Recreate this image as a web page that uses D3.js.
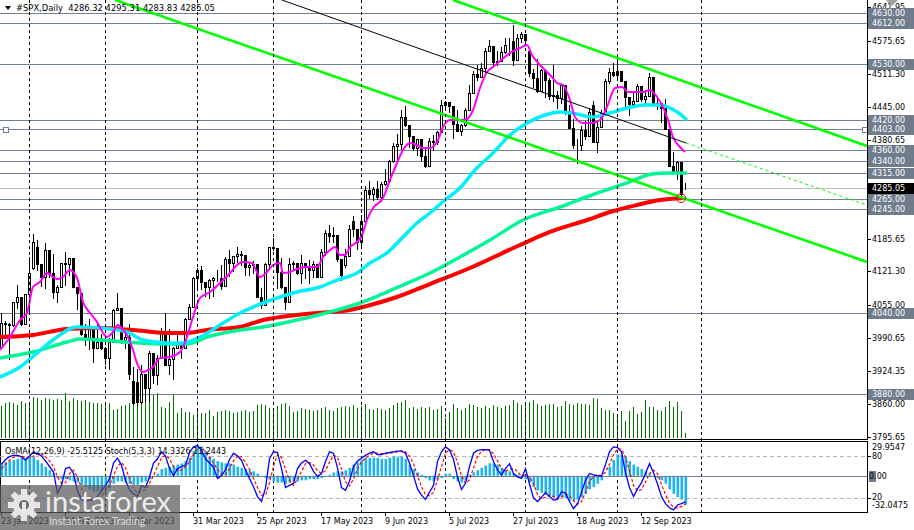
<!DOCTYPE html>
<html><head><meta charset="utf-8">
<script src="https://cdn.jsdelivr.net/npm/d3@7"></script>
<style>body{margin:0;background:#fff;overflow:hidden}svg{display:block;font-family:"DejaVu Sans",sans-serif}</style>
</head><body><svg id="c" width="914" height="530"></svg>
<script>
const dates=["2023-01-23","2023-01-24","2023-01-25","2023-01-26","2023-01-27","2023-01-30","2023-01-31",
"2023-02-01","2023-02-02","2023-02-03","2023-02-06","2023-02-07","2023-02-08","2023-02-09","2023-02-10","2023-02-13","2023-02-14","2023-02-15","2023-02-16","2023-02-17","2023-02-21","2023-02-22","2023-02-23","2023-02-24","2023-02-27","2023-02-28",
"2023-03-01","2023-03-02","2023-03-03","2023-03-06","2023-03-07","2023-03-08","2023-03-09","2023-03-10","2023-03-13","2023-03-14","2023-03-15","2023-03-16","2023-03-17","2023-03-20","2023-03-21","2023-03-22","2023-03-23","2023-03-24","2023-03-27","2023-03-28","2023-03-29","2023-03-30","2023-03-31",
"2023-04-03","2023-04-04","2023-04-05","2023-04-06","2023-04-10","2023-04-11","2023-04-12","2023-04-13","2023-04-14","2023-04-17","2023-04-18","2023-04-19","2023-04-20","2023-04-21","2023-04-24","2023-04-25","2023-04-26","2023-04-27","2023-04-28",
"2023-05-01","2023-05-02","2023-05-03","2023-05-04","2023-05-05","2023-05-08","2023-05-09","2023-05-10","2023-05-11","2023-05-12","2023-05-15","2023-05-16","2023-05-17","2023-05-18","2023-05-19","2023-05-22","2023-05-23","2023-05-24","2023-05-25","2023-05-26","2023-05-30","2023-05-31",
"2023-06-01","2023-06-02","2023-06-05","2023-06-06","2023-06-07","2023-06-08","2023-06-09","2023-06-12","2023-06-13","2023-06-14","2023-06-15","2023-06-16","2023-06-20","2023-06-21","2023-06-22","2023-06-23","2023-06-26","2023-06-27","2023-06-28","2023-06-29","2023-06-30",
"2023-07-03","2023-07-05","2023-07-06","2023-07-07","2023-07-10","2023-07-11","2023-07-12","2023-07-13","2023-07-14","2023-07-17","2023-07-18","2023-07-19","2023-07-20","2023-07-21","2023-07-24","2023-07-25","2023-07-26","2023-07-27","2023-07-28","2023-07-31",
"2023-08-01","2023-08-02","2023-08-03","2023-08-04","2023-08-07","2023-08-08","2023-08-09","2023-08-10","2023-08-11","2023-08-14","2023-08-15","2023-08-16","2023-08-17","2023-08-18","2023-08-21","2023-08-22","2023-08-23","2023-08-24","2023-08-25","2023-08-28","2023-08-29","2023-08-30","2023-08-31",
"2023-09-01","2023-09-05","2023-09-06","2023-09-07","2023-09-08","2023-09-11","2023-09-12","2023-09-13","2023-09-14","2023-09-15","2023-09-18","2023-09-19","2023-09-20","2023-09-21","2023-09-22","2023-09-25","2023-09-26","2023-09-27"];

const open=[3972.6,4019.8,4017.0,4016.2,4060.4,4070.6,4017.8,
4076.6,4128.0,4170.0,4136.5,4111.1,4164.0,4117.9,4081.5,4090.5,4137.3,4136.1,4147.6,4090.4,4079.1,3997.3,3991.1,4012.3,3970.0,3982.2,
3970.2,3951.4,3981.4,4045.6,4048.4,3986.4,3992.0,3905.0,3903.0,3864.0,3919.3,3891.9,3960.3,3916.6,3951.6,4002.9,3937.0,3948.7,3971.0,3977.5,3971.3,4027.8,4050.8,
4109.3,4124.5,4100.6,4090.4,4105.0,4109.1,4108.9,4092.0,4146.2,4137.6,4151.3,4154.9,4154.5,4129.8,4133.5,4137.0,4071.6,4056.0,4135.4,
4169.5,4167.9,4119.6,4090.8,4061.2,4136.3,4138.1,4119.2,4137.6,4130.6,4124.1,4136.3,4109.9,4158.8,4198.1,4192.0,4192.6,4145.6,4135.0,4151.3,4220.0,4205.5,
4179.8,4221.0,4282.4,4273.8,4283.9,4267.5,4293.9,4298.9,4338.9,4369.0,4372.6,4425.8,4409.6,4388.7,4365.7,4381.9,4348.3,4328.8,4378.4,4376.9,4396.4,
4450.4,4455.6,4446.8,4411.6,4399.0,4409.5,4439.3,4472.2,4510.0,4505.4,4522.8,4555.0,4565.7,4534.9,4536.3,4554.6,4567.5,4575.0,4537.4,4582.2,
4589.0,4555.0,4513.4,4501.9,4478.0,4518.4,4499.4,4467.7,4468.8,4464.1,4489.7,4437.9,4404.3,4370.4,4369.7,4399.8,4387.6,4450.0,4376.3,4405.7,4433.3,4497.6,4514.9,
4507.7,4515.8,4496.8,4465.5,4451.1,4457.5,4487.5,4461.9,4467.4,4505.1,4450.3,4453.5,4444.0,4402.2,4330.0,4320.1,4337.4,4286.32];
const high=[4039.3,4023.9,4019.6,4061.6,4094.2,4070.6,4077.2,
4149.0,4195.4,4182.4,4136.5,4176.5,4164.0,4156.2,4094.4,4138.9,4159.8,4148.1,4147.6,4090.4,4079.1,4017.4,4028.3,4012.3,4018.1,3997.5,
3971.7,3990.8,4048.3,4078.5,4050.0,4000.4,4017.8,3934.0,3930.0,3937.3,3919.3,3964.5,3960.3,3956.6,4009.1,4039.5,4007.7,3972.7,4003.8,3979.2,4030.6,4057.9,4110.8,
4127.7,4133.1,4100.6,4107.3,4109.5,4124.3,4134.4,4150.3,4163.2,4151.7,4169.5,4162.6,4154.5,4138.0,4142.4,4137.0,4089.7,4138.2,4170.1,
4186.9,4167.9,4148.3,4090.8,4147.0,4142.3,4138.1,4154.3,4137.6,4143.7,4141.3,4136.3,4164.7,4202.2,4212.9,4209.2,4192.6,4145.6,4165.7,4212.9,4231.1,4205.5,
4232.4,4290.7,4299.3,4288.3,4299.2,4298.0,4322.6,4340.1,4375.4,4391.8,4439.2,4448.5,4409.6,4388.7,4382.3,4381.9,4362.1,4384.4,4390.4,4398.4,4458.5,
4456.5,4455.6,4446.8,4440.4,4412.6,4443.6,4488.3,4517.4,4527.8,4532.9,4562.3,4578.4,4565.7,4555.0,4563.4,4580.6,4582.5,4607.1,4590.2,4594.2,
4589.0,4560.0,4519.5,4540.3,4519.8,4518.4,4502.4,4527.4,4476.2,4490.3,4489.7,4450.0,4421.2,4381.8,4407.6,4418.6,4443.2,4458.3,4418.5,4439.6,4500.1,4521.7,4532.3,
4541.3,4515.8,4496.8,4465.5,4473.5,4490.8,4487.5,4479.4,4512.0,4505.1,4466.4,4453.5,4461.0,4402.2,4357.4,4338.5,4337.4,4295.31];
const low=[3971.6,3989.8,3949.1,4013.3,4048.7,4015.6,4017.8,
4037.2,4126.0,4123.4,4093.4,4088.4,4111.0,4069.7,4060.8,4090.5,4095.0,4113.5,4089.9,4048.0,3995.2,3976.9,3969.2,3943.1,3970.0,3969.0,
3939.1,3928.2,3981.4,4044.6,3980.3,3969.8,3908.7,3860.0,3858.0,3862.0,3866.0,3866.0,3901.3,3900.0,3951.6,3936.2,3919.1,3909.2,3970.5,3951.5,3971.3,4027.8,4050.8,
4086.9,4086.9,4072.6,4069.8,4072.6,4102.6,4086.9,4092.0,4113.2,4123.2,4140.4,4134.5,4114.6,4113.9,4117.8,4071.4,4049.4,4056.0,4127.2,
4164.1,4089.7,4088.9,4048.3,4061.2,4123.8,4116.7,4098.9,4109.3,4099.1,4110.3,4109.9,4109.9,4153.5,4180.2,4179.7,4142.5,4104.0,4129.7,4151.3,4192.2,4166.2,
4171.6,4221.0,4266.8,4263.1,4264.0,4261.1,4291.7,4298.9,4337.7,4337.9,4362.6,4407.4,4367.2,4360.1,4351.8,4341.3,4328.1,4328.8,4360.2,4372.0,4396.4,
4442.3,4436.6,4385.1,4397.4,4389.9,4408.5,4439.3,4472.2,4499.6,4504.9,4514.6,4555.0,4527.6,4527.6,4536.3,4552.4,4547.6,4528.6,4537.4,4573.1,
4567.5,4505.8,4485.5,4474.6,4478.0,4464.4,4461.3,4457.9,4444.0,4453.4,4432.2,4403.6,4364.8,4335.3,4360.3,4382.8,4387.6,4375.6,4356.3,4405.7,4431.7,4493.6,4507.4,
4501.4,4496.0,4442.4,4430.5,4448.4,4457.5,4456.8,4453.5,4467.4,4447.2,4442.1,4416.6,4401.4,4329.2,4316.5,4302.7,4266.0,4283.83];
const close=[4019.8,4017.0,4016.2,4060.4,4070.6,4017.8,4076.6,
4119.2,4179.8,4136.5,4111.1,4164.0,4117.9,4081.5,4090.5,4137.3,4136.1,4147.6,4090.4,4079.1,3997.3,3991.1,4012.3,3970.0,3982.2,3970.2,
3951.4,3981.4,4045.6,4048.4,3986.4,3992.0,3918.3,3863.0,3864.0,3919.3,3891.9,3960.3,3916.6,3951.6,4002.9,3937.0,3948.7,3971.0,3977.5,3971.3,4027.8,4050.8,4109.3,
4124.5,4100.6,4090.4,4105.0,4109.1,4108.9,4092.0,4146.2,4137.6,4151.3,4154.9,4154.5,4129.8,4133.5,4137.0,4071.6,4056.0,4135.4,4169.5,
4167.9,4119.6,4090.8,4061.2,4136.3,4138.1,4119.2,4137.6,4130.6,4124.1,4136.3,4109.9,4158.8,4198.1,4192.0,4192.6,4145.6,4115.2,4151.3,4205.5,4205.5,4179.8,
4221.0,4282.4,4273.8,4283.9,4267.5,4293.9,4298.9,4338.9,4369.0,4372.6,4425.8,4409.6,4388.7,4365.7,4381.9,4348.3,4328.8,4378.4,4376.9,4396.4,4450.4,
4455.6,4446.8,4411.6,4399.0,4409.5,4439.3,4472.2,4510.0,4505.4,4522.8,4555.0,4565.7,4534.9,4536.3,4554.6,4567.5,4566.8,4537.4,4582.2,4589.0,
4576.7,4513.4,4501.9,4478.0,4518.4,4499.4,4467.7,4468.8,4464.1,4489.7,4437.9,4404.3,4370.4,4369.7,4399.8,4387.6,4436.0,4376.3,4405.7,4433.3,4497.6,4514.9,4507.7,
4515.8,4496.8,4465.5,4451.1,4457.5,4487.5,4461.9,4467.4,4505.1,4450.3,4453.5,4444.0,4402.2,4330.0,4320.1,4337.4,4273.5,4285.05];
const volume=[32,35,36,35,33,37,35,33,41,40,38,40,39,38,39,38,45,37,40,38,37,38,36,35,35,
34,35,35,28,29,32,33,35,53,48,46,42,46,43,45,31,30,36,43,25,30,26,26,23,28,25,25,
28,22,26,27,28,27,25,26,27,28,26,27,33,34,33,30,
28,32,34,35,32,26,27,30,29,28,27,28,30,31,28,27,30,31,32,31,33,30,
32,34,29,28,30,29,28,30,33,35,36,38,30,31,29,31,30,31,28,29,32,
20,26,34,30,28,30,34,33,31,30,32,30,33,31,30,32,33,38,35,33,34,36,38,34,32,33,34,34,31,
32,37,34,33,35,34,34,33,40,39,30,28,28,25,23,27,17,27,31,24,26,38,31,31,28,27,31,37,31,36,27,5];

// moving averages: [bar index, price]
const maFast=[[-0.25,3966.5],[2.25,3992.2],[4.75,4025.7],[6.5,4039.5],[8,4090.7],[9.75,4100.6],[11.5,4118.3],[13,4110.4],[14.25,4106.5],[15.5,4110.4],[17.25,4124.2],[19,4108.5],[20.5,4061.2],[22.25,4039.5],[24,4021.8],[25.5,4000.1],[26.5,3992.2],[28,4002],[29.25,4015.8],[30.5,4006],[31.75,3992.2],[33,3966.5],[34,3940.9],[35.5,3923.2],[36.75,3927.1],[38,3933],[39.75,3950.8],[42.25,3952.7],[44.75,3962.6],[46.5,3992.2],[48,4031.6],[49.75,4069],[52.25,4080.9],[54.75,4098.6],[57.25,4118.3],[59,4134.1],[60.5,4140],[62.75,4138.1],[64.75,4110.4],[66.5,4120.3],[68,4134.1],[69.75,4138.1],[70.5,4118.3],[72.25,4120.3],[74,4126.2],[76.5,4130.1],[79,4130.1],[80.5,4149.9],[82.25,4163.6],[83.5,4169.6],[84.75,4153.8],[86,4153.8],[87.25,4169.6],[89,4179.4],[90.25,4193.2],[91.5,4222.8],[93,4246.5],[95.5,4266.2],[97.25,4301.7],[99,4335.2],[100.5,4360.8],[102.25,4374.6],[104,4370.6],[105.25,4364.7],[107.25,4364.7],[109.25,4380.5],[110.5,4406.1],[112.25,4419.9],[114.75,4419.9],[116.5,4421.9],[118,4439.6],[119.75,4483],[121.5,4514.5],[123,4524.4],[124.75,4536.2],[127.25,4552],[129.75,4561.9],[131.5,4567.8],[132.75,4548.1],[134.25,4532.3],[136,4518.5],[137.75,4504.7],[139,4492.9],[140.5,4488.9],[142.25,4459.4],[143.5,4425.9],[145.5,4414],[147.75,4414],[149.75,4419.9],[151.5,4445.5],[153.5,4483],[155.25,4485],[156.75,4475.1],[158.5,4475.1],[160.5,4475.1],[162.25,4479.1],[164,4465.3],[165.5,4445.5],[166.75,4419.9],[168,4386.4],[169.75,4366.7],[171,4356.9]];
const maMid=[[-0.25,3913.3],[4.75,3933],[9,3960.6],[13,3986.3],[19,4011.9],[24.75,4009.9],[31.5,4002],[35.5,3986.3],[41.5,3980.4],[45.5,3980.4],[49.75,3992.2],[54.75,4015.8],[59.75,4039.5],[65.5,4059.2],[69.75,4071],[74,4080.9],[79.75,4090.7],[84,4104.5],[89,4118.3],[92.25,4138],[96.5,4157.8],[100.5,4189.3],[104,4216.9],[107.25,4236.6],[111,4262.2],[114.75,4285.9],[118.5,4321.4],[123,4354.9],[127.25,4390.4],[131.5,4414],[136,4429.8],[139.75,4435.7],[144,4431.8],[147.75,4425.9],[152.25,4433.7],[156.5,4443.6],[161,4449.5],[164.75,4449.5],[167.75,4441.6],[169.75,4431.8],[171.5,4419.9]];
const maSlow=[[-0.25,3950.8],[8,3962.6],[16.5,3982.3],[19.75,3988.2],[24.75,3986.3],[34.75,3980.4],[41.5,3978.4],[46.5,3978.4],[51.5,3992.2],[59.75,4006],[65.5,4011.9],[74,4025.7],[82.25,4041.5],[89.75,4059.2],[94.75,4075],[100.5,4094.7],[107.25,4118.3],[114.75,4149.9],[122.25,4183.4],[130.5,4222.8],[139.75,4248.4],[147.75,4272.1],[156.5,4295.8],[162.75,4313.5],[167.25,4315.5],[171.5,4315.5]];
const ma200=[[-0.25,3992.2],[8,3996.2],[16.5,4008],[24.75,4009.9],[33,4006],[41.5,4000.1],[46.5,4000.1],[51.5,4006],[59.75,4011.9],[65.5,4025.7],[74,4035.6],[82.25,4041.5],[87.25,4045.4],[90.5,4051.3],[99,4071],[107.25,4096.6],[117.25,4128.2],[129.75,4173.5],[137.25,4199.2],[146.5,4222.8],[152.25,4238.6],[159,4252.4],[164.75,4262.2],[170.5,4266.2]];

const osma=[11,12,13,14,15,16,16,17,17,14,11,8,5,2,-2,-3,-3,-4,-5,-6,
-8,-10,-12,-14,-14,-14,-13,-11,-7,-5,-5,-6,-7,-8,-8,-6,-5,-3,-1,2,
6,7,8,9,10,11,13,16,22,27,26,22,17,15,13,12,11,11,10,8,
7,6,5,4,2,0,-2,-3,-5,-6,-6,-7,-6,-5,-5,-4,-4,-3,-3,-3,
-2,-1,1,3,4,4,5,7,10,12,14,16,16,16,16,15,15,16,17,17,
17,15,10,6,3,1,-2,-4,-5,-3,-2,2,2,-3,-5,-6,-4,1,3,5,
7,9,11,11,10,7,5,4,2,1,-2,-3,-6,-10,-13,-15,-17,-18,-19,-20,
-19,-20,-22,-22,-21,-19,-16,-12,-10,-7,-4,0,8,14,19,19,17,13,10,8,
6,4,2,0,-2,-4,-7,-12,-16,-19,-21,-25.5125];
const stochMain=[68,75,79,81,81,79,74,80,86,83,80,73,65,57,27,38,62,64,55,30,
18,15,17,17,22,30,38,47,70,77,67,45,32,26,22,38,35,50,70,76,
86,80,62,52,62,65,67,85,93,95,88,76,70,64,48,52,60,75,84,80,
74,60,48,36,22,15,34,76,86,85,62,35,38,41,62,70,74,69,58,51,
55,72,86,84,63,35,31,44,65,73,77,81,84,86,82,82,84,85,86,87,
87,84,70,52,33,24,18,28,38,72,86,93,89,75,50,32,41,65,84,88,
89,89,88,72,60,53,62,69,55,50,48,62,40,20,15,21,28,22,17,18,
29,27,15,5,12,28,45,55,53,52,51,68,86,93,92,86,56,35,22,33,
42,55,69,56,40,22,12,6,3,10,12,14.33];
const stochSignal=[62,68,74,78,80,80,78,78,80,83,83,79,73,65,50,41,42,55,60,50,
34,21,17,16,19,23,30,38,52,65,71,63,48,34,27,29,32,41,52,65,
77,81,76,65,59,60,65,72,82,91,92,86,78,70,61,55,53,62,73,80,
79,71,61,48,35,24,24,42,65,82,78,61,45,38,47,58,69,71,67,59,
55,59,71,81,78,61,43,37,47,61,72,77,81,84,84,83,83,84,85,86,
87,86,80,69,52,36,25,23,28,46,65,84,89,86,71,52,41,46,63,79,
87,89,89,83,73,62,58,61,62,58,51,53,50,41,25,19,21,24,22,19,
21,25,24,16,11,15,28,43,51,53,52,57,68,82,90,90,78,59,38,30,
32,43,55,60,55,39,25,13,7,6,8,11.24];

const levels=[4630,4612,4530,4420,4403,4360,4340,4315,4265,4245,4040,3880];
const currentPrice=4285.05;
const priceTicks=[4641.95,4575.65,4511.30,4445.00,4380.65,4185.65,4121.30,4055.00,3990.65,3924.35,3860.00,3795.65];
const monthStarts=[7,26,49,68,90,111,131,154,175];
const dateLabelIdx=[0,16,32,48,64,80,96,112,128,144,160];
const trendLines=[
 {a:[28.5,4656.4],b:[216.5,4140.2],color:"#00FF00",w:2.6,dash:null},
 {a:[113,4656.4],b:[216.5,4368.7],color:"#00FF00",w:2.6,dash:null},
 {a:[70.25,4656.4],b:[171.25,4374.6],color:"#000000",w:1,dash:null},
 {a:[171.25,4374.6],b:[216.5,4252.4],color:"#00FF00",w:1,dash:"3,3"}];
const marker={i:170,p:4266};
const title="#SPX,Daily  4286.32 4295.31 4283.83 4285.05";
const subTitle="OsMA(12,26,9) -25.5125  Stoch(5,3,3) 14.3326 11.2443";

const svg=d3.select("#c");
const PR=867, MB=439, ST=442, SB=512;
const x=d3.scaleLinear().domain([0,216.5]).range([1,867]);
const y=d3.scaleLinear().domain([3795.65,4575.65]).range([436.7,41]);
const yS=d3.scaleLinear().domain([0,100]).range([SB,ST]);
const yO=d3.scaleLinear().domain([-32.0475,29.9547]).range([SB,ST]);
const yV=d3.scaleLinear().domain([0,100]).range([438,338]);
const LG="#708090";

const defs=svg.append("defs");
defs.append("clipPath").attr("id","cm").append("rect").attr("x",0).attr("y",0).attr("width",PR).attr("height",MB);
defs.append("clipPath").attr("id","cs").append("rect").attr("x",0).attr("y",ST).attr("width",PR).attr("height",SB-ST);
svg.append("rect").attr("width",914).attr("height",530).attr("fill","#fff");

const main=svg.append("g").attr("clip-path","url(#cm)");
main.selectAll("line.lv").data(levels).join("line").attr("x1",0).attr("x2",PR)
 .attr("y1",d=>Math.round(y(d))+0.5).attr("y2",d=>Math.round(y(d))+0.5).attr("stroke",LG).attr("stroke-width",1);
main.append("line").attr("x1",0).attr("x2",PR).attr("y1",Math.round(y(currentPrice))+0.5).attr("y2",Math.round(y(currentPrice))+0.5).attr("stroke","#c0c0c0");
svg.append("g").selectAll("line").data(monthStarts).join("line")
 .attr("x1",d=>Math.round(x(d))+0.5).attr("x2",d=>Math.round(x(d))+0.5).attr("y1",0).attr("y2",SB)
 .attr("stroke","#000").attr("stroke-dasharray","3,3");
main.selectAll("line.v").data(volume).join("line")
 .attr("x1",(d,i)=>Math.round(x(i))+0.5).attr("x2",(d,i)=>Math.round(x(i))+0.5)
 .attr("y1",yV(0)).attr("y2",d=>yV(d)).attr("stroke","#007000").attr("stroke-width",1);
const cg=main.append("g");
dates.forEach((d,i)=>{
 const cx=Math.round(x(i));
 cg.append("line").attr("x1",cx+0.5).attr("x2",cx+0.5).attr("y1",Math.round(y(high[i]))).attr("y2",Math.round(y(low[i]))+1).attr("stroke","#000");
 const t=Math.round(y(Math.max(open[i],close[i]))), b=Math.round(y(Math.min(open[i],close[i])));
 cg.append("rect").attr("x",cx-0.5).attr("y",t+0.5).attr("width",2).attr("height",Math.max(b-t,0))
  .attr("fill",close[i]>=open[i]?"#fff":"#000").attr("stroke","#000");
});
const lineGen=d3.line().x(d=>x(d[0])).y(d=>y(d[1])).curve(d3.curveMonotoneX);
[[ma200,"#ff0000",4],[maSlow,"#00F596",3.5],[maMid,"#00F0F8",3.5],[maFast,"#ff00ff",2]].forEach(([d,c,w])=>{
 main.append("path").attr("d",lineGen(d)).attr("fill","none").attr("stroke",c).attr("stroke-width",w).attr("stroke-linejoin","round");
});
trendLines.forEach(t=>{
 const l=main.append("line").attr("x1",x(t.a[0])).attr("y1",y(t.a[1])).attr("x2",x(t.b[0])).attr("y2",y(t.b[1]))
  .attr("stroke",t.color).attr("stroke-width",t.w);
 if(t.dash) l.attr("stroke-dasharray",t.dash);
});
main.append("circle").attr("cx",x(marker.i)).attr("cy",y(marker.p)).attr("r",4.5).attr("fill","none").attr("stroke","#ff0000");
[3,862].forEach(px=>main.append("rect").attr("x",px+0.5).attr("y",Math.round(y(4403))-2+0.5).attr("width",5).attr("height",5).attr("fill","#fff").attr("stroke",LG));

svg.append("line").attr("x1",PR+0.5).attr("x2",PR+0.5).attr("y1",0).attr("y2",MB+1).attr("stroke","#000");
svg.append("line").attr("x1",0).attr("x2",PR+1).attr("y1",MB+0.5).attr("y2",MB+0.5).attr("stroke","#000");
svg.append("rect").attr("x",0.5).attr("y",ST-0.5).attr("width",PR).attr("height",SB-ST+1).attr("fill","none").attr("stroke","#000");

const ax=svg.append("g").attr("font-size",8).attr("fill","#000");
priceTicks.forEach(v=>{
 const yy=Math.round(y(v));
 ax.append("line").attr("x1",PR).attr("x2",PR+4).attr("y1",yy+0.5).attr("y2",yy+0.5).attr("stroke","#000");
 ax.append("text").attr("x",872).attr("y",yy+3).text(v.toFixed(2));
});
levels.forEach(v=>{
 const yy=Math.round(y(v));
 ax.append("rect").attr("x",868).attr("y",yy-5).attr("width",46).attr("height",11).attr("fill","#6e7c8c");
 ax.append("text").attr("x",872).attr("y",yy+3).attr("fill","#fff").text(v.toFixed(2));
});
{const yy=Math.round(y(currentPrice));
 ax.append("rect").attr("x",868).attr("y",yy-5).attr("width",46).attr("height",11).attr("fill","#000");
 ax.append("text").attr("x",872).attr("y",yy+3).attr("fill","#fff").text(currentPrice.toFixed(2));}

const sub=svg.append("g").attr("clip-path","url(#cs)");
[80,20].forEach(v=>sub.append("line").attr("x1",0).attr("x2",PR).attr("y1",Math.round(yS(v))+0.5).attr("y2",Math.round(yS(v))+0.5).attr("stroke","#b4b4b4").attr("stroke-dasharray","4,3"));
sub.selectAll("rect.o").data(osma).join("rect")
 .attr("x",(d,i)=>Math.round(x(i))-0.5).attr("width",2.6)
 .attr("y",d=>Math.min(yO(d),yO(0))).attr("height",d=>Math.abs(yO(d)-yO(0)))
 .attr("fill","#1eb4f0");
sub.append("line").attr("x1",0).attr("x2",PR).attr("y1",Math.round(yO(0))+0.5).attr("y2",Math.round(yO(0))+0.5).attr("stroke",LG);
const sl=d3.line().x((d,i)=>x(i)+0.5).y(d=>yS(d));
sub.append("path").attr("d",sl(stochSignal)).attr("fill","none").attr("stroke","#ff0000").attr("stroke-width",1.2).attr("stroke-dasharray","3,2");
sub.append("path").attr("d",sl(stochMain)).attr("fill","none").attr("stroke","#0000ff").attr("stroke-width",1.3);
svg.append("text").attr("x",5).attr("y",454).attr("font-size",8).text(subTitle);

const sa=svg.append("g").attr("font-size",8);
[[29.9547,"29.9547",450],[80,"80",459],[20,"20",500],[-32.0475,"-32.0475",508]].forEach(([v,t,yy])=>{
 sa.append("text").attr("x",872).attr("y",yy).text(t);
});
[80,20].forEach(v=>sa.append("line").attr("x1",PR).attr("x2",PR+4).attr("y1",Math.round(yS(v))+0.5).attr("y2",Math.round(yS(v))+0.5).attr("stroke","#000"));
sa.append("rect").attr("x",869).attr("y",Math.round(yO(0))-5).attr("width",7).attr("height",11).attr("fill","#6e7c8c");
sa.append("text").attr("x",869).attr("y",Math.round(yO(0))+3).text("0.00");

const fmt=d3.timeFormat("%-d %b %Y"), parse=d3.timeParse("%Y-%m-%d");
const ta=svg.append("g").attr("font-size",8);
dateLabelIdx.forEach(i=>{
 const xx=Math.round(x(i));
 ta.append("line").attr("x1",xx+0.5).attr("x2",xx+0.5).attr("y1",SB).attr("y2",SB+4).attr("stroke","#000");
 ta.append("text").attr("x",xx).attr("y",524).text(fmt(parse(dates[i])));
});

svg.append("path").attr("d","M5,6 L11,6 L8,10 Z").attr("fill","#000");
svg.append("text").attr("x",16).attr("y",11).attr("font-size",8.4).attr("xml:space","preserve").text(title);
svg.append("path").attr("d","M886,0 L898,0 L892,6 Z").attr("fill","#a0a0a0");

const wm=svg.append("g");
wm.append("rect").attr("x",0).attr("y",485).attr("width",180).attr("height",45).attr("fill","#5a5a5a").attr("opacity",0.72);
const gear=wm.append("g").attr("transform","translate(24,505)").attr("fill","#e6e6e6");
gear.append("circle").attr("r",11);
d3.range(8).forEach(k=>gear.append("rect").attr("x",-3).attr("y",-16).attr("width",6).attr("height",7).attr("transform",`rotate(${k*45})`));
gear.append("circle").attr("r",5).attr("fill","#6a6a6a");
gear.append("rect").attr("x",-2).attr("y",-3).attr("width",4).attr("height",12).attr("fill","#e6e6e6");
wm.append("text").attr("x",45).attr("y",512).attr("font-family","Lato, 'Open Sans', sans-serif").attr("font-size",29).attr("fill","#ececec").text("instaforex");
wm.append("text").attr("x",49).attr("y",525).attr("font-family","Lato, 'Open Sans', sans-serif").attr("font-size",10.5).attr("fill","#d8d8d8").text("Instant Forex Trading");
</script></body></html>
